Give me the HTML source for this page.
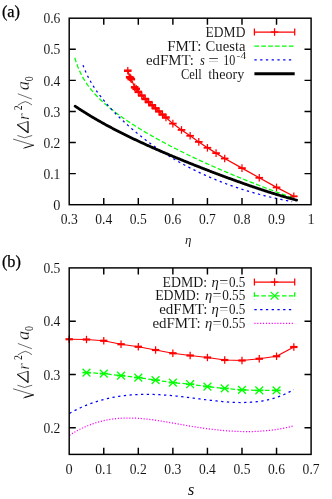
<!DOCTYPE html>
<html><head><meta charset="utf-8"><title>plot</title>
<style>html,body{margin:0;padding:0;background:#fff}svg{display:block}</style>
</head><body>
<svg width="332" height="499" viewBox="0 0 332 499" font-family="Liberation Serif, serif" fill="#111" style="will-change:transform">
<style>text{stroke:#fff;stroke-width:0.04px}.yl .big{stroke-width:0.28px}</style>
<path d="M127.80 70.70 L129.70 77.20 L130.50 78.00 L131.30 79.20 L134.70 87.30 L136.20 88.90 L138.31 91.88 L141.77 95.52 L145.23 98.96 L148.68 102.14 L152.14 105.28 L155.59 108.32 L159.05 111.42 L162.50 114.60 L165.96 117.50 L172.87 123.60 L181.51 129.90 L190.15 135.80 L198.79 141.90 L207.43 147.80 L216.07 153.10 L224.71 158.50 L241.99 168.10 L259.26 177.80 L276.54 187.40 L293.82 196.30" stroke="#ff0000" stroke-width="1.25" fill="none" stroke-linecap="butt" stroke-linejoin="round" />
<path d="M124.00 70.70H131.60" stroke="#ff0000" stroke-width="2.5" fill="none"/><path d="M127.80 66.90V74.50" stroke="#ff0000" stroke-width="1.25" fill="none"/>
<path d="M125.90 77.20H133.50" stroke="#ff0000" stroke-width="2.5" fill="none"/><path d="M129.70 73.40V81.00" stroke="#ff0000" stroke-width="1.25" fill="none"/>
<path d="M126.70 78.00H134.30" stroke="#ff0000" stroke-width="2.5" fill="none"/><path d="M130.50 74.20V81.80" stroke="#ff0000" stroke-width="1.25" fill="none"/>
<path d="M127.50 79.20H135.10" stroke="#ff0000" stroke-width="2.5" fill="none"/><path d="M131.30 75.40V83.00" stroke="#ff0000" stroke-width="1.25" fill="none"/>
<path d="M130.90 87.30H138.50" stroke="#ff0000" stroke-width="2.5" fill="none"/><path d="M134.70 83.50V91.10" stroke="#ff0000" stroke-width="1.25" fill="none"/>
<path d="M132.40 88.90H140.00" stroke="#ff0000" stroke-width="2.5" fill="none"/><path d="M136.20 85.10V92.70" stroke="#ff0000" stroke-width="1.25" fill="none"/>
<path d="M134.51 91.88H142.11" stroke="#ff0000" stroke-width="2.5" fill="none"/><path d="M138.31 88.08V95.68" stroke="#ff0000" stroke-width="1.25" fill="none"/>
<path d="M137.97 95.52H145.57" stroke="#ff0000" stroke-width="2.5" fill="none"/><path d="M141.77 91.72V99.32" stroke="#ff0000" stroke-width="1.25" fill="none"/>
<path d="M141.43 98.96H149.03" stroke="#ff0000" stroke-width="2.5" fill="none"/><path d="M145.23 95.16V102.76" stroke="#ff0000" stroke-width="1.25" fill="none"/>
<path d="M144.88 102.14H152.48" stroke="#ff0000" stroke-width="2.5" fill="none"/><path d="M148.68 98.34V105.94" stroke="#ff0000" stroke-width="1.25" fill="none"/>
<path d="M148.34 105.28H155.94" stroke="#ff0000" stroke-width="2.5" fill="none"/><path d="M152.14 101.48V109.08" stroke="#ff0000" stroke-width="1.25" fill="none"/>
<path d="M151.79 108.32H159.39" stroke="#ff0000" stroke-width="2.5" fill="none"/><path d="M155.59 104.52V112.12" stroke="#ff0000" stroke-width="1.25" fill="none"/>
<path d="M155.25 111.42H162.85" stroke="#ff0000" stroke-width="2.5" fill="none"/><path d="M159.05 107.62V115.22" stroke="#ff0000" stroke-width="1.25" fill="none"/>
<path d="M158.70 114.60H166.30" stroke="#ff0000" stroke-width="2.5" fill="none"/><path d="M162.50 110.80V118.40" stroke="#ff0000" stroke-width="1.25" fill="none"/>
<path d="M162.16 117.50H169.76" stroke="#ff0000" stroke-width="2.5" fill="none"/><path d="M165.96 113.70V121.30" stroke="#ff0000" stroke-width="1.25" fill="none"/>
<path d="M169.07 123.60H176.67" stroke="#ff0000" stroke-width="1.8" fill="none"/><path d="M172.87 119.80V127.40" stroke="#ff0000" stroke-width="1.25" fill="none"/>
<path d="M177.71 129.90H185.31" stroke="#ff0000" stroke-width="1.8" fill="none"/><path d="M181.51 126.10V133.70" stroke="#ff0000" stroke-width="1.25" fill="none"/>
<path d="M186.35 135.80H193.95" stroke="#ff0000" stroke-width="1.8" fill="none"/><path d="M190.15 132.00V139.60" stroke="#ff0000" stroke-width="1.25" fill="none"/>
<path d="M194.99 141.90H202.59" stroke="#ff0000" stroke-width="1.8" fill="none"/><path d="M198.79 138.10V145.70" stroke="#ff0000" stroke-width="1.25" fill="none"/>
<path d="M203.63 147.80H211.23" stroke="#ff0000" stroke-width="1.8" fill="none"/><path d="M207.43 144.00V151.60" stroke="#ff0000" stroke-width="1.25" fill="none"/>
<path d="M212.27 153.10H219.87" stroke="#ff0000" stroke-width="1.8" fill="none"/><path d="M216.07 149.30V156.90" stroke="#ff0000" stroke-width="1.25" fill="none"/>
<path d="M220.91 158.50H228.51" stroke="#ff0000" stroke-width="1.8" fill="none"/><path d="M224.71 154.70V162.30" stroke="#ff0000" stroke-width="1.25" fill="none"/>
<path d="M238.19 168.10H245.79" stroke="#ff0000" stroke-width="1.8" fill="none"/><path d="M241.99 164.30V171.90" stroke="#ff0000" stroke-width="1.25" fill="none"/>
<path d="M255.46 177.80H263.06" stroke="#ff0000" stroke-width="1.8" fill="none"/><path d="M259.26 174.00V181.60" stroke="#ff0000" stroke-width="1.25" fill="none"/>
<path d="M272.74 187.40H280.34" stroke="#ff0000" stroke-width="1.8" fill="none"/><path d="M276.54 183.60V191.20" stroke="#ff0000" stroke-width="1.25" fill="none"/>
<path d="M290.02 196.30H297.62" stroke="#ff0000" stroke-width="1.8" fill="none"/><path d="M293.82 192.50V200.10" stroke="#ff0000" stroke-width="1.25" fill="none"/>
<path d="M74.80 57.77 L75.80 61.03 L76.80 63.97 L77.80 66.65 L78.80 69.11 L79.80 71.39 L80.80 73.50 L81.80 75.48 L82.80 77.34 L83.80 79.08 L84.80 80.74 L85.80 82.31 L86.80 83.81 L87.80 85.25 L88.80 86.62 L89.80 87.94 L90.80 89.21 L91.80 90.44 L92.80 91.63 L93.80 92.78 L94.80 93.90 L95.80 94.99 L96.80 96.05 L97.80 97.08 L98.80 98.09 L99.80 99.07 L100.80 100.03 L101.80 100.98 L102.80 101.90 L103.80 102.81 L104.80 103.70 L105.80 104.58 L106.80 105.44 L107.80 106.28 L108.80 107.12 L109.80 107.94 L110.80 108.75 L111.80 109.55 L112.80 110.34 L113.80 111.11 L114.80 111.88 L115.80 112.64 L116.80 113.39 L117.80 114.13 L118.80 114.87 L119.80 115.59 L120.80 116.31 L121.80 117.02 L122.80 117.73 L123.80 118.42 L124.80 119.11 L125.80 119.80 L126.80 120.48 L127.80 121.15 L128.80 121.82 L129.80 122.48 L130.80 123.14 L131.80 123.79 L132.80 124.43 L133.80 125.07 L134.80 125.71 L135.80 126.34 L136.80 126.97 L137.80 127.59 L138.80 128.21 L139.80 128.83 L140.80 129.44 L141.80 130.04 L142.80 130.64 L143.80 131.24 L144.80 131.84 L145.80 132.43 L146.80 133.02 L147.80 133.60 L148.80 134.18 L149.80 134.76 L150.80 135.33 L151.80 135.91 L152.80 136.47 L153.80 137.04 L154.80 137.60 L155.80 138.16 L156.80 138.72 L157.80 139.27 L158.80 139.82 L159.80 140.37 L160.80 140.91 L161.80 141.45 L162.80 141.99 L163.80 142.53 L164.80 143.06 L165.80 143.60 L166.80 144.13 L167.80 144.65 L168.80 145.18 L169.80 145.70 L170.80 146.22 L171.80 146.74 L172.80 147.25 L173.80 147.76 L174.80 148.28 L175.80 148.78 L176.80 149.29 L177.80 149.79 L178.80 150.30 L179.80 150.80 L180.80 151.30 L181.80 151.79 L182.80 152.29 L183.80 152.78 L184.80 153.27 L185.80 153.76 L186.80 154.24 L187.80 154.73 L188.80 155.21 L189.80 155.69 L190.80 156.17 L191.80 156.65 L192.80 157.12 L193.80 157.60 L194.80 158.07 L195.80 158.54 L196.80 159.01 L197.80 159.47 L198.80 159.94 L199.80 160.40 L200.80 160.86 L201.80 161.32 L202.80 161.78 L203.80 162.24 L204.80 162.69 L205.80 163.15 L206.80 163.60 L207.80 164.05 L208.80 164.50 L209.80 164.95 L210.80 165.39 L211.80 165.84 L212.80 166.28 L213.80 166.72 L214.80 167.17 L215.80 167.60 L216.80 168.04 L217.80 168.48 L218.80 168.91 L219.80 169.35 L220.80 169.78 L221.80 170.21 L222.80 170.64 L223.80 171.07 L224.80 171.49 L225.80 171.92 L226.80 172.34 L227.80 172.77 L228.80 173.19 L229.80 173.61 L230.80 174.03 L231.80 174.45 L232.80 174.86 L233.80 175.28 L234.80 175.69 L235.80 176.11 L236.80 176.52 L237.80 176.93 L238.80 177.34 L239.80 177.75 L240.80 178.15 L241.80 178.56 L242.80 178.96 L243.80 179.37 L244.80 179.77 L245.80 180.17 L246.80 180.57 L247.80 180.97 L248.80 181.37 L249.80 181.77 L250.80 182.16 L251.80 182.56 L252.80 182.95 L253.80 183.34 L254.80 183.73 L255.80 184.13 L256.80 184.52 L257.80 184.90 L258.80 185.29 L259.80 185.68 L260.80 186.06 L261.80 186.45 L262.80 186.83 L263.80 187.21 L264.80 187.60 L265.80 187.98 L266.80 188.36 L267.80 188.73 L268.80 189.11 L269.80 189.49 L270.80 189.86 L271.80 190.24 L272.80 190.61 L273.80 190.99 L274.80 191.36 L275.80 191.73 L276.80 192.10 L277.80 192.47 L278.80 192.84 L279.80 193.20 L280.80 193.57 L281.80 193.94 L282.80 194.30 L283.80 194.67 L284.80 195.03 L285.80 195.39 L286.80 195.75 L287.80 196.11 L288.80 196.47 L289.80 196.83 L290.80 197.19 L291.80 197.55 L292.80 197.90 L293.80 198.26 L294.50 198.51" stroke="#00ff00" stroke-width="1.25" fill="none" stroke-linecap="butt" stroke-linejoin="round" stroke-dasharray="4.60 2.30" />
<path d="M83.00 65.13 L84.00 67.76 L85.00 70.21 L86.00 72.51 L87.00 74.67 L88.00 76.71 L89.00 78.65 L90.00 80.49 L91.00 82.26 L92.00 83.96 L93.00 85.59 L94.00 87.16 L95.00 88.69 L96.00 90.16 L97.00 91.60 L98.00 93.00 L99.00 94.36 L100.00 95.69 L101.00 96.99 L102.00 98.26 L103.00 99.50 L104.00 100.73 L105.00 101.93 L106.00 103.11 L107.00 104.27 L108.00 105.41 L109.00 106.53 L110.00 107.64 L111.00 108.73 L112.00 109.81 L113.00 110.87 L114.00 111.92 L115.00 112.96 L116.00 113.98 L117.00 114.99 L118.00 115.99 L119.00 116.98 L120.00 117.96 L121.00 118.92 L122.00 119.88 L123.00 120.82 L124.00 121.76 L125.00 122.68 L126.00 123.60 L127.00 124.51 L128.00 125.41 L129.00 126.30 L130.00 127.18 L131.00 128.05 L132.00 128.92 L133.00 129.77 L134.00 130.62 L135.00 131.46 L136.00 132.29 L137.00 133.12 L138.00 133.94 L139.00 134.75 L140.00 135.55 L141.00 136.35 L142.00 137.13 L143.00 137.91 L144.00 138.69 L145.00 139.46 L146.00 140.22 L147.00 140.97 L148.00 141.72 L149.00 142.46 L150.00 143.19 L151.00 143.92 L152.00 144.64 L153.00 145.36 L154.00 146.07 L155.00 146.77 L156.00 147.47 L157.00 148.16 L158.00 148.84 L159.00 149.52 L160.00 150.19 L161.00 150.86 L162.00 151.52 L163.00 152.18 L164.00 152.83 L165.00 153.47 L166.00 154.11 L167.00 154.74 L168.00 155.37 L169.00 155.99 L170.00 156.61 L171.00 157.22 L172.00 157.83 L173.00 158.43 L174.00 159.02 L175.00 159.61 L176.00 160.20 L177.00 160.78 L178.00 161.35 L179.00 161.92 L180.00 162.49 L181.00 163.05 L182.00 163.61 L183.00 164.16 L184.00 164.70 L185.00 165.24 L186.00 165.78 L187.00 166.31 L188.00 166.84 L189.00 167.36 L190.00 167.88 L191.00 168.39 L192.00 168.90 L193.00 169.41 L194.00 169.91 L195.00 170.40 L196.00 170.89 L197.00 171.38 L198.00 171.86 L199.00 172.34 L200.00 172.81 L201.00 173.28 L202.00 173.75 L203.00 174.21 L204.00 174.67 L205.00 175.12 L206.00 175.57 L207.00 176.01 L208.00 176.46 L209.00 176.89 L210.00 177.33 L211.00 177.75 L212.00 178.18 L213.00 178.60 L214.00 179.02 L215.00 179.43 L216.00 179.84 L217.00 180.25 L218.00 180.65 L219.00 181.05 L220.00 181.44 L221.00 181.84 L222.00 182.22 L223.00 182.61 L224.00 182.99 L225.00 183.37 L226.00 183.74 L227.00 184.11 L228.00 184.48 L229.00 184.84 L230.00 185.20 L231.00 185.55 L232.00 185.91 L233.00 186.26 L234.00 186.60 L235.00 186.95 L236.00 187.29 L237.00 187.62 L238.00 187.95 L239.00 188.28 L240.00 188.61 L241.00 188.93 L242.00 189.25 L243.00 189.57 L244.00 189.88 L245.00 190.20 L246.00 190.50 L247.00 190.81 L248.00 191.11 L249.00 191.41 L250.00 191.70 L251.00 192.00 L252.00 192.29 L253.00 192.57 L254.00 192.86 L255.00 193.14 L256.00 193.41 L257.00 193.69 L258.00 193.96 L259.00 194.23 L260.00 194.50 L261.00 194.76 L262.00 195.02 L263.00 195.28 L264.00 195.53 L265.00 195.79 L266.00 196.04 L267.00 196.28 L268.00 196.53 L269.00 196.77 L270.00 197.01 L271.00 197.25 L272.00 197.48 L273.00 197.71 L274.00 197.94 L275.00 198.17 L276.00 198.39 L277.00 198.61 L278.00 198.83 L279.00 199.05 L280.00 199.26 L281.00 199.47 L282.00 199.68 L283.00 199.88 L284.00 200.09 L285.00 200.29 L286.00 200.49 L287.00 200.68 L288.00 200.88 L289.00 201.07 L290.00 201.26 L291.00 201.45 L292.00 201.63 L292.10 201.65" stroke="#0000ff" stroke-width="1.25" fill="none" stroke-linecap="butt" stroke-linejoin="round" stroke-dasharray="2.30 3.45" />
<path d="M75.10 106.21 L76.10 106.88 L77.10 107.54 L78.10 108.19 L79.10 108.84 L80.10 109.49 L81.10 110.13 L82.10 110.77 L83.10 111.41 L84.10 112.04 L85.10 112.66 L86.10 113.28 L87.10 113.90 L88.10 114.51 L89.10 115.12 L90.10 115.72 L91.10 116.33 L92.10 116.92 L93.10 117.52 L94.10 118.11 L95.10 118.69 L96.10 119.27 L97.10 119.85 L98.10 120.43 L99.10 121.00 L100.10 121.57 L101.10 122.13 L102.10 122.69 L103.10 123.25 L104.10 123.81 L105.10 124.36 L106.10 124.91 L107.10 125.45 L108.10 125.99 L109.10 126.53 L110.10 127.07 L111.10 127.60 L112.10 128.13 L113.10 128.66 L114.10 129.18 L115.10 129.71 L116.10 130.23 L117.10 130.74 L118.10 131.26 L119.10 131.77 L120.10 132.28 L121.10 132.78 L122.10 133.28 L123.10 133.79 L124.10 134.28 L125.10 134.78 L126.10 135.27 L127.10 135.77 L128.10 136.26 L129.10 136.74 L130.10 137.23 L131.10 137.71 L132.10 138.19 L133.10 138.67 L134.10 139.15 L135.10 139.62 L136.10 140.09 L137.10 140.56 L138.10 141.03 L139.10 141.50 L140.10 141.96 L141.10 142.43 L142.10 142.89 L143.10 143.35 L144.10 143.80 L145.10 144.26 L146.10 144.71 L147.10 145.17 L148.10 145.62 L149.10 146.07 L150.10 146.51 L151.10 146.96 L152.10 147.40 L153.10 147.85 L154.10 148.29 L155.10 148.73 L156.10 149.17 L157.10 149.60 L158.10 150.04 L159.10 150.47 L160.10 150.91 L161.10 151.34 L162.10 151.77 L163.10 152.20 L164.10 152.63 L165.10 153.05 L166.10 153.48 L167.10 153.90 L168.10 154.32 L169.10 154.75 L170.10 155.17 L171.10 155.59 L172.10 156.00 L173.10 156.42 L174.10 156.84 L175.10 157.25 L176.10 157.67 L177.10 158.08 L178.10 158.49 L179.10 158.90 L180.10 159.31 L181.10 159.72 L182.10 160.13 L183.10 160.54 L184.10 160.94 L185.10 161.35 L186.10 161.75 L187.10 162.15 L188.10 162.56 L189.10 162.96 L190.10 163.36 L191.10 163.76 L192.10 164.16 L193.10 164.55 L194.10 164.95 L195.10 165.35 L196.10 165.74 L197.10 166.14 L198.10 166.53 L199.10 166.92 L200.10 167.31 L201.10 167.71 L202.10 168.10 L203.10 168.49 L204.10 168.87 L205.10 169.26 L206.10 169.65 L207.10 170.03 L208.10 170.42 L209.10 170.80 L210.10 171.19 L211.10 171.57 L212.10 171.95 L213.10 172.33 L214.10 172.71 L215.10 173.09 L216.10 173.47 L217.10 173.85 L218.10 174.23 L219.10 174.60 L220.10 174.98 L221.10 175.35 L222.10 175.73 L223.10 176.10 L224.10 176.47 L225.10 176.84 L226.10 177.21 L227.10 177.58 L228.10 177.95 L229.10 178.32 L230.10 178.68 L231.10 179.05 L232.10 179.41 L233.10 179.78 L234.10 180.14 L235.10 180.50 L236.10 180.86 L237.10 181.22 L238.10 181.58 L239.10 181.94 L240.10 182.30 L241.10 182.65 L242.10 183.01 L243.10 183.36 L244.10 183.71 L245.10 184.07 L246.10 184.42 L247.10 184.77 L248.10 185.11 L249.10 185.46 L250.10 185.81 L251.10 186.15 L252.10 186.49 L253.10 186.84 L254.10 187.18 L255.10 187.52 L256.10 187.85 L257.10 188.19 L258.10 188.53 L259.10 188.86 L260.10 189.19 L261.10 189.53 L262.10 189.86 L263.10 190.18 L264.10 190.51 L265.10 190.84 L266.10 191.16 L267.10 191.48 L268.10 191.81 L269.10 192.12 L270.10 192.44 L271.10 192.76 L272.10 193.07 L273.10 193.39 L274.10 193.70 L275.10 194.01 L276.10 194.31 L277.10 194.62 L278.10 194.92 L279.10 195.22 L280.10 195.52 L281.10 195.82 L282.10 196.12 L283.10 196.41 L284.10 196.70 L285.10 196.99 L286.10 197.28 L287.10 197.57 L288.10 197.85 L289.10 198.13 L290.10 198.41 L291.10 198.69 L292.10 198.96 L293.10 199.23 L294.10 199.50 L295.10 199.77 L296.10 200.03 L296.60 200.17" stroke="#000" stroke-width="2.8" fill="none" stroke-linecap="round" stroke-linejoin="round" />
<g stroke="#000" stroke-width="1.45" fill="none" stroke-linecap="butt">
<rect x="69.2" y="18.2" width="241.90000000000003" height="186.5"/>
<path d="M103.76 204.7V198.1M103.76 18.2V24.799999999999997"/>
<path d="M138.31 204.7V198.1M138.31 18.2V24.799999999999997"/>
<path d="M172.87 204.7V198.1M172.87 18.2V24.799999999999997"/>
<path d="M207.43 204.7V198.1M207.43 18.2V24.799999999999997"/>
<path d="M241.99 204.7V198.1M241.99 18.2V24.799999999999997"/>
<path d="M276.54 204.7V198.1M276.54 18.2V24.799999999999997"/>
<path d="M69.2 173.62H75.8M311.1 173.62H304.5"/>
<path d="M69.2 142.53H75.8M311.1 142.53H304.5"/>
<path d="M69.2 111.45H75.8M311.1 111.45H304.5"/>
<path d="M69.2 80.37H75.8M311.1 80.37H304.5"/>
<path d="M69.2 49.28H75.8M311.1 49.28H304.5"/>
</g>
<text x="60.4" y="209.89999999999998" font-size="14.3" text-anchor="end" >0</text>
<text x="60.4" y="178.81666666666663" font-size="14.3" text-anchor="end" textLength="17.0" lengthAdjust="spacingAndGlyphs" >0.1</text>
<text x="60.4" y="147.7333333333333" font-size="14.3" text-anchor="end" textLength="17.0" lengthAdjust="spacingAndGlyphs" >0.2</text>
<text x="60.4" y="116.64999999999998" font-size="14.3" text-anchor="end" textLength="17.0" lengthAdjust="spacingAndGlyphs" >0.3</text>
<text x="60.4" y="85.56666666666663" font-size="14.3" text-anchor="end" textLength="17.0" lengthAdjust="spacingAndGlyphs" >0.4</text>
<text x="60.4" y="54.483333333333306" font-size="14.3" text-anchor="end" textLength="17.0" lengthAdjust="spacingAndGlyphs" >0.5</text>
<text x="60.4" y="23.39999999999996" font-size="14.3" text-anchor="end" textLength="17.0" lengthAdjust="spacingAndGlyphs" >0.6</text>
<text x="69.2" y="224.2" font-size="14.3" text-anchor="middle" textLength="17.0" lengthAdjust="spacingAndGlyphs" >0.3</text>
<text x="103.75714285714288" y="224.2" font-size="14.3" text-anchor="middle" textLength="17.0" lengthAdjust="spacingAndGlyphs" >0.4</text>
<text x="138.31428571428575" y="224.2" font-size="14.3" text-anchor="middle" textLength="17.0" lengthAdjust="spacingAndGlyphs" >0.5</text>
<text x="172.87142857142862" y="224.2" font-size="14.3" text-anchor="middle" textLength="17.0" lengthAdjust="spacingAndGlyphs" >0.6</text>
<text x="207.42857142857144" y="224.2" font-size="14.3" text-anchor="middle" textLength="17.0" lengthAdjust="spacingAndGlyphs" >0.7</text>
<text x="241.98571428571432" y="224.2" font-size="14.3" text-anchor="middle" textLength="17.0" lengthAdjust="spacingAndGlyphs" >0.8</text>
<text x="276.5428571428572" y="224.2" font-size="14.3" text-anchor="middle" textLength="17.0" lengthAdjust="spacingAndGlyphs" >0.9</text>
<text x="311.1" y="224.2" font-size="14.3" text-anchor="middle" >1</text>
<text x="1.9" y="16.6" font-size="15.8" text-anchor="start" textLength="18.2" lengthAdjust="spacingAndGlyphs" style="stroke:#000;stroke-width:0.25px" fill="#000">(a)</text>
<text x="188.3" y="243.6" font-size="13" text-anchor="middle" font-style="italic">η</text>
<text x="205.6" y="36.9" font-size="13.6" textLength="39.80" lengthAdjust="spacingAndGlyphs" >EDMD</text>
<text x="167.2" y="50.9" font-size="13.6" textLength="34.20" lengthAdjust="spacingAndGlyphs" >FMT:</text>
<text x="205.6" y="50.9" font-size="13.6" textLength="39.90" lengthAdjust="spacingAndGlyphs" >Cuesta</text>
<text x="145.9" y="64.8" font-size="13.6" textLength="48.10" lengthAdjust="spacingAndGlyphs" >edFMT:</text>
<text x="200.0" y="64.8" font-size="13.6" textLength="4.80" lengthAdjust="spacingAndGlyphs" font-style="italic" >s</text>
<text x="208.2" y="64.8" font-size="13.6" textLength="10.60" lengthAdjust="spacingAndGlyphs" >=</text>
<text x="223.2" y="64.8" font-size="13.6" textLength="12.10" lengthAdjust="spacingAndGlyphs" >10</text>
<text x="236.6" y="59.3" font-size="9.5" textLength="9.60" lengthAdjust="spacingAndGlyphs" >-4</text>
<text x="180.9" y="78.60000000000001" font-size="13.6" textLength="20.80" lengthAdjust="spacingAndGlyphs" >Cell</text>
<text x="208.2" y="78.60000000000001" font-size="13.6" textLength="36.00" lengthAdjust="spacingAndGlyphs" >theory</text>
<path d="M254.4 32H294.7" stroke="#ff0000" stroke-width="1.25" fill="none"/>
<path d="M254.4 28.4V35.6M294.7 28.4V35.6" stroke="#ff0000" stroke-width="1.25" fill="none"/>
<path d="M270.75 32.00H278.35" stroke="#ff0000" stroke-width="1.25" fill="none"/><path d="M274.55 28.20V35.80" stroke="#ff0000" stroke-width="1.25" fill="none"/>
<path d="M254.4 46H294.7" stroke="#00ff00" stroke-width="1.25" stroke-dasharray="4.60 2.30" fill="none"/>
<path d="M254.4 59.9H294.7" stroke="#0000ff" stroke-width="1.25" stroke-dasharray="2.30 3.45" fill="none"/>
<path d="M254.4 73.7H294.7" stroke="#000" stroke-width="2.9" fill="none"/>
<path d="M69.50 413.35 L71.00 412.51 L72.50 411.70 L74.00 410.91 L75.50 410.14 L77.00 409.40 L78.50 408.67 L80.00 407.97 L81.50 407.29 L83.00 406.62 L84.50 405.98 L86.00 405.36 L87.50 404.76 L89.00 404.18 L90.50 403.62 L92.00 403.08 L93.50 402.55 L95.00 402.05 L96.50 401.56 L98.00 401.10 L99.50 400.65 L101.00 400.22 L102.50 399.80 L104.00 399.41 L105.50 399.03 L107.00 398.67 L108.50 398.32 L110.00 397.99 L111.50 397.68 L113.00 397.38 L114.50 397.10 L116.00 396.84 L117.50 396.59 L119.00 396.35 L120.50 396.13 L122.00 395.92 L123.50 395.73 L125.00 395.55 L126.50 395.39 L128.00 395.24 L129.50 395.10 L131.00 394.97 L132.50 394.86 L134.00 394.76 L135.50 394.67 L137.00 394.60 L138.50 394.53 L140.00 394.48 L141.50 394.44 L143.00 394.41 L144.50 394.39 L146.00 394.38 L147.50 394.39 L149.00 394.40 L150.50 394.42 L152.00 394.45 L153.50 394.49 L155.00 394.54 L156.50 394.60 L158.00 394.67 L159.50 394.74 L161.00 394.82 L162.50 394.92 L164.00 395.01 L165.50 395.12 L167.00 395.23 L168.50 395.35 L170.00 395.48 L171.50 395.61 L173.00 395.75 L174.50 395.90 L176.00 396.05 L177.50 396.21 L179.00 396.37 L180.50 396.53 L182.00 396.70 L183.50 396.88 L185.00 397.06 L186.50 397.24 L188.00 397.43 L189.50 397.62 L191.00 397.81 L192.50 398.00 L194.00 398.20 L195.50 398.39 L197.00 398.59 L198.50 398.78 L200.00 398.98 L201.50 399.17 L203.00 399.37 L204.50 399.56 L206.00 399.75 L207.50 399.94 L209.00 400.12 L210.50 400.30 L212.00 400.48 L213.50 400.65 L215.00 400.82 L216.50 400.98 L218.00 401.14 L219.50 401.29 L221.00 401.43 L222.50 401.57 L224.00 401.70 L225.50 401.82 L227.00 401.94 L228.50 402.04 L230.00 402.14 L231.50 402.23 L233.00 402.30 L234.50 402.37 L236.00 402.42 L237.50 402.47 L239.00 402.50 L240.50 402.52 L242.00 402.52 L243.50 402.51 L245.00 402.49 L246.50 402.45 L248.00 402.40 L249.50 402.33 L251.00 402.24 L252.50 402.14 L254.00 402.01 L255.50 401.87 L257.00 401.70 L258.50 401.52 L260.00 401.31 L261.50 401.09 L263.00 400.83 L264.50 400.56 L266.00 400.26 L267.50 399.94 L269.00 399.59 L270.50 399.21 L272.00 398.81 L273.50 398.38 L275.00 397.92 L276.50 397.44 L278.00 396.92 L279.50 396.37 L281.00 395.80 L282.50 395.19 L284.00 394.54 L285.50 393.87 L287.00 393.16 L288.50 392.42 L290.00 391.64 L291.50 390.82 L293.00 389.97 L293.75 389.53" stroke="#0000ff" stroke-width="1.25" fill="none" stroke-linecap="butt" stroke-linejoin="round" stroke-dasharray="2.30 3.45" />
<path d="M69.50 435.29 L71.00 434.33 L72.50 433.40 L74.00 432.50 L75.50 431.64 L77.00 430.80 L78.50 430.00 L80.00 429.22 L81.50 428.48 L83.00 427.76 L84.50 427.07 L86.00 426.41 L87.50 425.78 L89.00 425.18 L90.50 424.61 L92.00 424.06 L93.50 423.54 L95.00 423.04 L96.50 422.57 L98.00 422.13 L99.50 421.71 L101.00 421.31 L102.50 420.94 L104.00 420.60 L105.50 420.27 L107.00 419.97 L108.50 419.70 L110.00 419.44 L111.50 419.21 L113.00 419.00 L114.50 418.81 L116.00 418.64 L117.50 418.49 L119.00 418.37 L120.50 418.26 L122.00 418.17 L123.50 418.10 L125.00 418.04 L126.50 418.01 L128.00 418.00 L129.50 418.00 L131.00 418.01 L132.50 418.05 L134.00 418.10 L135.50 418.16 L137.00 418.24 L138.50 418.34 L140.00 418.44 L141.50 418.56 L143.00 418.70 L144.50 418.84 L146.00 419.00 L147.50 419.16 L149.00 419.34 L150.50 419.53 L152.00 419.72 L153.50 419.93 L155.00 420.14 L156.50 420.36 L158.00 420.58 L159.50 420.82 L161.00 421.06 L162.50 421.30 L164.00 421.55 L165.50 421.80 L167.00 422.06 L168.50 422.32 L170.00 422.58 L171.50 422.85 L173.00 423.12 L174.50 423.38 L176.00 423.65 L177.50 423.92 L179.00 424.19 L180.50 424.46 L182.00 424.72 L183.50 424.98 L185.00 425.24 L186.50 425.50 L188.00 425.75 L189.50 426.01 L191.00 426.25 L192.50 426.50 L194.00 426.74 L195.50 426.98 L197.00 427.21 L198.50 427.44 L200.00 427.67 L201.50 427.89 L203.00 428.10 L204.50 428.31 L206.00 428.52 L207.50 428.72 L209.00 428.92 L210.50 429.11 L212.00 429.29 L213.50 429.47 L215.00 429.64 L216.50 429.81 L218.00 429.97 L219.50 430.13 L221.00 430.27 L222.50 430.41 L224.00 430.55 L225.50 430.67 L227.00 430.79 L228.50 430.90 L230.00 431.01 L231.50 431.10 L233.00 431.19 L234.50 431.27 L236.00 431.34 L237.50 431.40 L239.00 431.45 L240.50 431.50 L242.00 431.53 L243.50 431.56 L245.00 431.58 L246.50 431.58 L248.00 431.58 L249.50 431.57 L251.00 431.54 L252.50 431.51 L254.00 431.47 L255.50 431.41 L257.00 431.35 L258.50 431.27 L260.00 431.18 L261.50 431.08 L263.00 430.97 L264.50 430.85 L266.00 430.71 L267.50 430.57 L269.00 430.41 L270.50 430.24 L272.00 430.05 L273.50 429.86 L275.00 429.65 L276.50 429.43 L278.00 429.19 L279.50 428.94 L281.00 428.68 L282.50 428.40 L284.00 428.11 L285.50 427.80 L287.00 427.49 L288.50 427.15 L290.00 426.80 L291.50 426.44 L293.00 426.06 L293.75 425.87" stroke="#ff00ff" stroke-width="1.25" fill="none" stroke-linecap="butt" stroke-linejoin="round" stroke-dasharray="1.15 1.72" />
<path d="M69.20 339.25 L86.48 339.50 L103.76 340.75 L121.04 344.25 L138.31 346.75 L155.59 350.00 L172.87 353.25 L190.15 355.50 L207.43 357.50 L224.71 360.00 L241.99 360.50 L259.26 358.75 L276.54 356.25 L293.82 347.00" stroke="#ff0000" stroke-width="1.25" fill="none" stroke-linecap="butt" stroke-linejoin="round" />
<path d="M65.50 339.25H72.90" stroke="#ff0000" stroke-width="2.2" fill="none"/><path d="M69.20 335.55V342.95" stroke="#ff0000" stroke-width="1.25" fill="none"/>
<path d="M82.78 339.50H90.18" stroke="#ff0000" stroke-width="2.2" fill="none"/><path d="M86.48 335.80V343.20" stroke="#ff0000" stroke-width="1.25" fill="none"/>
<path d="M100.06 340.75H107.46" stroke="#ff0000" stroke-width="2.2" fill="none"/><path d="M103.76 337.05V344.45" stroke="#ff0000" stroke-width="1.25" fill="none"/>
<path d="M117.34 344.25H124.74" stroke="#ff0000" stroke-width="2.2" fill="none"/><path d="M121.04 340.55V347.95" stroke="#ff0000" stroke-width="1.25" fill="none"/>
<path d="M134.61 346.75H142.01" stroke="#ff0000" stroke-width="2.2" fill="none"/><path d="M138.31 343.05V350.45" stroke="#ff0000" stroke-width="1.25" fill="none"/>
<path d="M151.89 350.00H159.29" stroke="#ff0000" stroke-width="2.2" fill="none"/><path d="M155.59 346.30V353.70" stroke="#ff0000" stroke-width="1.25" fill="none"/>
<path d="M169.17 353.25H176.57" stroke="#ff0000" stroke-width="2.2" fill="none"/><path d="M172.87 349.55V356.95" stroke="#ff0000" stroke-width="1.25" fill="none"/>
<path d="M186.45 355.50H193.85" stroke="#ff0000" stroke-width="2.2" fill="none"/><path d="M190.15 351.80V359.20" stroke="#ff0000" stroke-width="1.25" fill="none"/>
<path d="M203.73 357.50H211.13" stroke="#ff0000" stroke-width="2.2" fill="none"/><path d="M207.43 353.80V361.20" stroke="#ff0000" stroke-width="1.25" fill="none"/>
<path d="M221.01 360.00H228.41" stroke="#ff0000" stroke-width="2.2" fill="none"/><path d="M224.71 356.30V363.70" stroke="#ff0000" stroke-width="1.25" fill="none"/>
<path d="M238.29 360.50H245.69" stroke="#ff0000" stroke-width="2.2" fill="none"/><path d="M241.99 356.80V364.20" stroke="#ff0000" stroke-width="1.25" fill="none"/>
<path d="M255.56 358.75H262.96" stroke="#ff0000" stroke-width="2.2" fill="none"/><path d="M259.26 355.05V362.45" stroke="#ff0000" stroke-width="1.25" fill="none"/>
<path d="M272.84 356.25H280.24" stroke="#ff0000" stroke-width="2.2" fill="none"/><path d="M276.54 352.55V359.95" stroke="#ff0000" stroke-width="1.25" fill="none"/>
<path d="M290.12 347.00H297.52" stroke="#ff0000" stroke-width="2.2" fill="none"/><path d="M293.82 343.30V350.70" stroke="#ff0000" stroke-width="1.25" fill="none"/>
<path d="M86.48 372.60 L103.76 373.60 L121.04 375.60 L138.31 377.60 L155.59 380.10 L172.87 382.60 L190.15 384.20 L207.43 386.60 L224.71 388.40 L241.99 389.90 L259.26 390.40 L276.54 390.40" stroke="#00ff00" stroke-width="1.25" fill="none" stroke-linecap="butt" stroke-linejoin="round" stroke-dasharray="4.60 2.30" />
<path d="M82.58 368.70L90.38 376.50M82.58 376.50L90.38 368.70" stroke="#00ff00" stroke-width="1.25" fill="none"/>
<path d="M82.38 372.60H90.58" stroke="#00ff00" stroke-width="1.7" fill="none"/>
<path d="M99.86 369.70L107.66 377.50M99.86 377.50L107.66 369.70" stroke="#00ff00" stroke-width="1.25" fill="none"/>
<path d="M99.66 373.60H107.86" stroke="#00ff00" stroke-width="1.7" fill="none"/>
<path d="M117.14 371.70L124.94 379.50M117.14 379.50L124.94 371.70" stroke="#00ff00" stroke-width="1.25" fill="none"/>
<path d="M116.94 375.60H125.14" stroke="#00ff00" stroke-width="1.7" fill="none"/>
<path d="M134.41 373.70L142.21 381.50M134.41 381.50L142.21 373.70" stroke="#00ff00" stroke-width="1.25" fill="none"/>
<path d="M134.21 377.60H142.41" stroke="#00ff00" stroke-width="1.7" fill="none"/>
<path d="M151.69 376.20L159.49 384.00M151.69 384.00L159.49 376.20" stroke="#00ff00" stroke-width="1.25" fill="none"/>
<path d="M151.49 380.10H159.69" stroke="#00ff00" stroke-width="1.7" fill="none"/>
<path d="M168.97 378.70L176.77 386.50M168.97 386.50L176.77 378.70" stroke="#00ff00" stroke-width="1.25" fill="none"/>
<path d="M168.77 382.60H176.97" stroke="#00ff00" stroke-width="1.7" fill="none"/>
<path d="M186.25 380.30L194.05 388.10M186.25 388.10L194.05 380.30" stroke="#00ff00" stroke-width="1.25" fill="none"/>
<path d="M186.05 384.20H194.25" stroke="#00ff00" stroke-width="1.7" fill="none"/>
<path d="M203.53 382.70L211.33 390.50M203.53 390.50L211.33 382.70" stroke="#00ff00" stroke-width="1.25" fill="none"/>
<path d="M203.33 386.60H211.53" stroke="#00ff00" stroke-width="1.7" fill="none"/>
<path d="M220.81 384.50L228.61 392.30M220.81 392.30L228.61 384.50" stroke="#00ff00" stroke-width="1.25" fill="none"/>
<path d="M220.61 388.40H228.81" stroke="#00ff00" stroke-width="1.7" fill="none"/>
<path d="M238.09 386.00L245.89 393.80M238.09 393.80L245.89 386.00" stroke="#00ff00" stroke-width="1.25" fill="none"/>
<path d="M237.89 389.90H246.09" stroke="#00ff00" stroke-width="1.7" fill="none"/>
<path d="M255.36 386.50L263.16 394.30M255.36 394.30L263.16 386.50" stroke="#00ff00" stroke-width="1.25" fill="none"/>
<path d="M255.16 390.40H263.36" stroke="#00ff00" stroke-width="1.7" fill="none"/>
<path d="M272.64 386.50L280.44 394.30M272.64 394.30L280.44 386.50" stroke="#00ff00" stroke-width="1.25" fill="none"/>
<path d="M272.44 390.40H280.64" stroke="#00ff00" stroke-width="1.7" fill="none"/>
<g stroke="#000" stroke-width="1.45" fill="none" stroke-linecap="butt">
<rect x="69.2" y="267.9" width="241.90000000000003" height="186.5"/>
<path d="M103.76 454.4V447.79999999999995M103.76 267.9V274.5"/>
<path d="M138.31 454.4V447.79999999999995M138.31 267.9V274.5"/>
<path d="M172.87 454.4V447.79999999999995M172.87 267.9V274.5"/>
<path d="M207.43 454.4V447.79999999999995M207.43 267.9V274.5"/>
<path d="M241.99 454.4V447.79999999999995M241.99 267.9V274.5"/>
<path d="M276.54 454.4V447.79999999999995M276.54 267.9V274.5"/>
<path d="M69.2 427.76H75.8M311.1 427.76H304.5"/>
<path d="M69.2 374.47H75.8M311.1 374.47H304.5"/>
<path d="M69.2 321.19H75.8M311.1 321.19H304.5"/>
</g>
<text x="60.4" y="432.9571428571428" font-size="14.3" text-anchor="end" textLength="17.0" lengthAdjust="spacingAndGlyphs" >0.2</text>
<text x="60.4" y="379.6714285714285" font-size="14.3" text-anchor="end" textLength="17.0" lengthAdjust="spacingAndGlyphs" >0.3</text>
<text x="60.4" y="326.38571428571424" font-size="14.3" text-anchor="end" textLength="17.0" lengthAdjust="spacingAndGlyphs" >0.4</text>
<text x="60.4" y="273.09999999999997" font-size="14.3" text-anchor="end" textLength="17.0" lengthAdjust="spacingAndGlyphs" >0.5</text>
<text x="69.2" y="473.8" font-size="14.3" text-anchor="middle" >0</text>
<text x="103.75714285714287" y="473.8" font-size="14.3" text-anchor="middle" textLength="17.0" lengthAdjust="spacingAndGlyphs" >0.1</text>
<text x="138.31428571428575" y="473.8" font-size="14.3" text-anchor="middle" textLength="17.0" lengthAdjust="spacingAndGlyphs" >0.2</text>
<text x="172.87142857142862" y="473.8" font-size="14.3" text-anchor="middle" textLength="17.0" lengthAdjust="spacingAndGlyphs" >0.3</text>
<text x="207.42857142857144" y="473.8" font-size="14.3" text-anchor="middle" textLength="17.0" lengthAdjust="spacingAndGlyphs" >0.4</text>
<text x="241.98571428571432" y="473.8" font-size="14.3" text-anchor="middle" textLength="17.0" lengthAdjust="spacingAndGlyphs" >0.5</text>
<text x="276.5428571428572" y="473.8" font-size="14.3" text-anchor="middle" textLength="17.0" lengthAdjust="spacingAndGlyphs" >0.6</text>
<text x="311.1000000000001" y="473.8" font-size="14.3" text-anchor="middle" textLength="17.0" lengthAdjust="spacingAndGlyphs" >0.7</text>
<text x="1.9" y="266.7" font-size="15.8" text-anchor="start" textLength="19.0" lengthAdjust="spacingAndGlyphs" style="stroke:#000;stroke-width:0.25px" fill="#000">(b)</text>
<text x="191" y="494.6" font-size="17" text-anchor="middle" font-style="italic">s</text>
<text x="162.5" y="286.6" font-size="13.6" textLength="44.50" lengthAdjust="spacingAndGlyphs" >EDMD:</text>
<text x="211.6" y="286.6" font-size="13.6" textLength="7.30" lengthAdjust="spacingAndGlyphs" font-style="italic" >η</text>
<text x="219.3" y="286.6" font-size="13.6" textLength="9.00" lengthAdjust="spacingAndGlyphs" >=</text>
<text x="228.9" y="286.6" font-size="13.6" textLength="16.40" lengthAdjust="spacingAndGlyphs" >0.5</text>
<text x="155.2" y="300.35" font-size="13.6" textLength="44.50" lengthAdjust="spacingAndGlyphs" >EDMD:</text>
<text x="204.9" y="300.35" font-size="13.6" textLength="7.30" lengthAdjust="spacingAndGlyphs" font-style="italic" >η</text>
<text x="212.5" y="300.35" font-size="13.6" textLength="9.00" lengthAdjust="spacingAndGlyphs" >=</text>
<text x="222.2" y="300.35" font-size="13.6" textLength="23.10" lengthAdjust="spacingAndGlyphs" >0.55</text>
<text x="159.2" y="314.1" font-size="13.6" textLength="48.30" lengthAdjust="spacingAndGlyphs" >edFMT:</text>
<text x="211.6" y="314.1" font-size="13.6" textLength="7.30" lengthAdjust="spacingAndGlyphs" font-style="italic" >η</text>
<text x="219.3" y="314.1" font-size="13.6" textLength="9.00" lengthAdjust="spacingAndGlyphs" >=</text>
<text x="228.9" y="314.1" font-size="13.6" textLength="16.40" lengthAdjust="spacingAndGlyphs" >0.5</text>
<text x="152.4" y="327.85" font-size="13.6" textLength="48.30" lengthAdjust="spacingAndGlyphs" >edFMT:</text>
<text x="204.9" y="327.85" font-size="13.6" textLength="7.30" lengthAdjust="spacingAndGlyphs" font-style="italic" >η</text>
<text x="212.5" y="327.85" font-size="13.6" textLength="9.00" lengthAdjust="spacingAndGlyphs" >=</text>
<text x="222.2" y="327.85" font-size="13.6" textLength="23.10" lengthAdjust="spacingAndGlyphs" >0.55</text>
<path d="M254.4 282H294.7" stroke="#ff0000" stroke-width="1.25" fill="none"/>
<path d="M254.4 278.4V285.6M294.7 278.4V285.6" stroke="#ff0000" stroke-width="1.25" fill="none"/>
<path d="M270.75 282.00H278.35" stroke="#ff0000" stroke-width="1.25" fill="none"/><path d="M274.55 278.20V285.80" stroke="#ff0000" stroke-width="1.25" fill="none"/>
<path d="M254.4 295.75H294.7" stroke="#00ff00" stroke-width="1.25" stroke-dasharray="4.60 2.30" fill="none"/>
<path d="M254.4 292.15V299.35M294.7 292.15V299.35" stroke="#00ff00" stroke-width="1.25" stroke-dasharray="4.60 2.30" fill="none"/>
<path d="M270.65 291.85L278.45 299.65M270.65 299.65L278.45 291.85" stroke="#00ff00" stroke-width="1.25" fill="none"/>
<path d="M254.4 309.5H294.7" stroke="#0000ff" stroke-width="1.25" stroke-dasharray="2.30 3.45" fill="none"/>
<path d="M254.4 323.25H294.7" stroke="#ff00ff" stroke-width="1.25" stroke-dasharray="1.15 1.72" fill="none"/>
<g transform="translate(0 0.00)">
<path d="M13.5 139.2L33.3 145.2" stroke="#111" fill="none" stroke-linecap="round" stroke-linejoin="round" stroke-width="0.65"/>
<path d="M33.3 145.2L25.0 147.7" stroke="#111" fill="none" stroke-linecap="round" stroke-linejoin="round" stroke-width="1.15"/>
<path d="M25.0 147.7L23.6 148.4" stroke="#111" fill="none" stroke-linecap="round" stroke-linejoin="round" stroke-width="0.6"/>
<path d="M17.8 135.6L24.5 137.8L31.8 135.6" stroke="#111" fill="none" stroke-linecap="round" stroke-linejoin="round" stroke-width="0.65"/>
<path d="M17.4 124.6L28.0 121.6L28.0 132.6Z" stroke="#111" fill="none" stroke-linecap="round" stroke-linejoin="round" stroke-width="0.65"/>
<path d="M17.8 124.9L27.7 132.2" stroke="#111" fill="none" stroke-linecap="round" stroke-linejoin="round" stroke-width="1.15"/>
<path d="M28.0 121.6L28.0 132.6" stroke="#111" fill="none" stroke-linecap="round" stroke-linejoin="round" stroke-width="0.9"/>
<path d="M18.1 105.1Q22.0 102.4 25.3 101.6Q28.6 102.4 31.6 104.7" stroke="#111" fill="none" stroke-linecap="round" stroke-linejoin="round" stroke-width="0.65"/>
<path d="M18.2 93.9L31.5 98.9" stroke="#111" fill="none" stroke-linecap="round" stroke-linejoin="round" stroke-width="0.6"/>
<g transform="translate(29.0 0) rotate(-90)" font-style="italic" class="yl">
<text x="-120.0" y="0" font-size="17.5" class="big">r</text>
<text x="-90.2" y="0.4" font-size="18.5" class="big">a</text>
<text x="-110.3" y="-7" font-size="12" font-style="normal" textLength="4.8" lengthAdjust="spacingAndGlyphs" style="stroke:none">2</text>
<text x="-81.3" y="3.8" font-size="12" font-style="normal" textLength="5.0" lengthAdjust="spacingAndGlyphs" style="stroke:none">0</text>
</g>
</g>
<g transform="translate(0 249.70)">
<path d="M13.5 139.2L33.3 145.2" stroke="#111" fill="none" stroke-linecap="round" stroke-linejoin="round" stroke-width="0.65"/>
<path d="M33.3 145.2L25.0 147.7" stroke="#111" fill="none" stroke-linecap="round" stroke-linejoin="round" stroke-width="1.15"/>
<path d="M25.0 147.7L23.6 148.4" stroke="#111" fill="none" stroke-linecap="round" stroke-linejoin="round" stroke-width="0.6"/>
<path d="M17.8 135.6L24.5 137.8L31.8 135.6" stroke="#111" fill="none" stroke-linecap="round" stroke-linejoin="round" stroke-width="0.65"/>
<path d="M17.4 124.6L28.0 121.6L28.0 132.6Z" stroke="#111" fill="none" stroke-linecap="round" stroke-linejoin="round" stroke-width="0.65"/>
<path d="M17.8 124.9L27.7 132.2" stroke="#111" fill="none" stroke-linecap="round" stroke-linejoin="round" stroke-width="1.15"/>
<path d="M28.0 121.6L28.0 132.6" stroke="#111" fill="none" stroke-linecap="round" stroke-linejoin="round" stroke-width="0.9"/>
<path d="M18.1 105.1Q22.0 102.4 25.3 101.6Q28.6 102.4 31.6 104.7" stroke="#111" fill="none" stroke-linecap="round" stroke-linejoin="round" stroke-width="0.65"/>
<path d="M18.2 93.9L31.5 98.9" stroke="#111" fill="none" stroke-linecap="round" stroke-linejoin="round" stroke-width="0.6"/>
<g transform="translate(29.0 0) rotate(-90)" font-style="italic" class="yl">
<text x="-120.0" y="0" font-size="17.5" class="big">r</text>
<text x="-90.2" y="0.4" font-size="18.5" class="big">a</text>
<text x="-110.3" y="-7" font-size="12" font-style="normal" textLength="4.8" lengthAdjust="spacingAndGlyphs" style="stroke:none">2</text>
<text x="-81.3" y="3.8" font-size="12" font-style="normal" textLength="5.0" lengthAdjust="spacingAndGlyphs" style="stroke:none">0</text>
</g>
</g>
</svg>
</body></html>
